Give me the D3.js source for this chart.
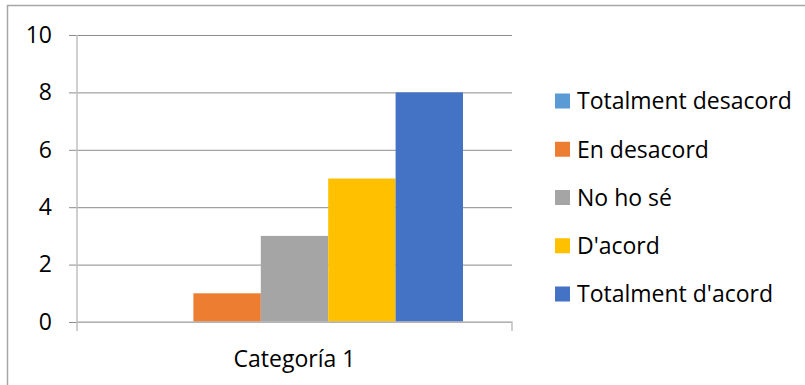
<!DOCTYPE html>
<html>
<head>
<meta charset="utf-8">
<script src="https://cdn.jsdelivr.net/npm/d3@7"></script>
<style>
  html, body { margin: 0; padding: 0; background: #fff; }
  svg { display: block; }
  text { font-family: "Open Sans", Lato, sans-serif; fill: #000; }
</style>
</head>
<body>
<svg id="chart" width="805" height="385"></svg>
<script>
// Survey answers for a single category
const categories = ["Categoría 1"];
const seriesNames = ["Totalment desacord", "En desacord", "No ho sé", "D'acord", "Totalment d'acord"];
const seriesValues = [0, 1, 3, 5, 8];
const seriesColors = ["#5B9BD5", "#ED7D31", "#A5A5A5", "#FFC000", "#4472C4"];
const yTicks = [0, 2, 4, 6, 8, 10];

const FONT = "'Open Sans', Lato, sans-serif";
const FONT_SIZE = 23;
const svg = d3.select("#chart");
const plot = { left: 77, right: 512, top: 35, bottom: 322 };

// Chart frame (only the top and left edges fall inside the view)
svg.append("rect")
  .attr("x", 7.5).attr("y", 5.5)
  .attr("width", 820).attr("height", 400)
  .attr("fill", "none").attr("stroke", "#a6a6a6").attr("stroke-width", 1.5);

const y = d3.scaleLinear().domain([0, 10]).range([plot.bottom, plot.top]);
const x0 = d3.scaleBand().domain(categories).range([plot.left, plot.right]).padding(0);
const x1 = d3.scaleBand().domain(seriesNames)
  .range([49, x0.bandwidth() - 49]).padding(0);

// Horizontal gridlines with outward tick stubs
const yAxis = d3.axisLeft(y).tickValues(yTicks).tickSize(plot.right - plot.left + 8);
const gy = svg.append("g").attr("transform", `translate(${plot.right},0)`).call(yAxis);
gy.select(".domain").remove();
gy.selectAll(".tick line").attr("stroke", "#8c8c8c").attr("stroke-width", 1)
  .attr("x1", 0);
gy.selectAll(".tick text").attr("font-size", FONT_SIZE).attr("x", -(plot.right - 52))
  .style("font-family", FONT);

// Bars
const groups = svg.append("g").selectAll("g")
  .data(categories).join("g")
  .attr("transform", d => `translate(${x0(d)},0)`);
groups.selectAll("rect")
  .data(() => seriesNames.map((name, i) => ({ name, value: seriesValues[i], color: seriesColors[i] })))
  .join("rect")
  .attr("x", d => x1(d.name))
  .attr("width", x1.bandwidth())
  .attr("y", d => y(d.value))
  .attr("height", d => y(0) - y(d.value))
  .attr("fill", d => d.color);

// Vertical axis line
svg.append("line")
  .attr("x1", plot.left).attr("x2", plot.left)
  .attr("y1", plot.top).attr("y2", plot.bottom + 9)
  .attr("stroke", "#bfbfbf").attr("stroke-width", 1.5);

// Category axis
const xAxis = d3.axisBottom(x0).tickSize(0).tickPadding(28);
const gx = svg.append("g").attr("transform", `translate(0,${plot.bottom})`).call(xAxis);
gx.select(".domain").attr("stroke", "#bfbfbf").attr("stroke-width", 1.5)
  .attr("d", `M${plot.left},0H${plot.right}V9`);
gx.selectAll(".tick text").attr("font-size", FONT_SIZE).attr("dy", "0.72em")
  .style("font-family", FONT);

// Legend
const legend = svg.append("g").attr("transform", "translate(555,0)");
const rowY = d3.scalePoint().domain(seriesNames).range([101, 294]);
const rows = legend.selectAll("g").data(seriesNames).join("g")
  .attr("transform", d => `translate(0,${rowY(d)})`);
rows.append("rect")
  .attr("x", 0).attr("y", -7.5).attr("width", 15).attr("height", 15)
  .attr("fill", (d, i) => seriesColors[i]);
rows.append("text")
  .attr("x", 22).attr("y", 0).attr("dy", "0.36em")
  .attr("font-size", FONT_SIZE)
  .style("font-family", FONT)
  .text(d => d);
</script>
</body>
</html>
